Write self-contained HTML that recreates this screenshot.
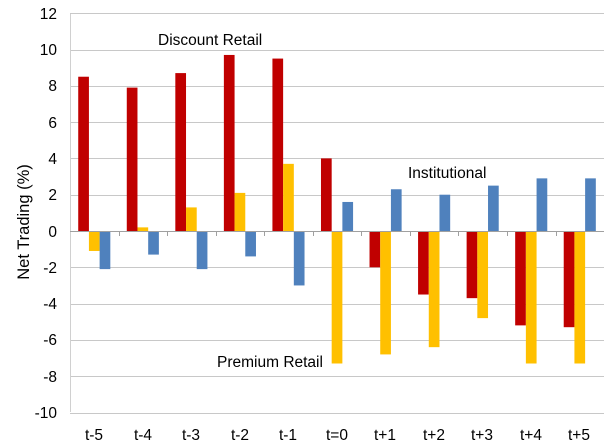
<!DOCTYPE html>
<html><head><meta charset="utf-8"><style>
html,body{margin:0;padding:0;background:#fff;}
svg{display:block;font-family:"Liberation Sans",Arial,sans-serif;}
</style></head><body>
<svg id="s" width="615" height="448" viewBox="0 0 615 448">
<g id="grid" stroke="#c8c8c8" stroke-width="1"></g>
<line x1="70.5" y1="14" x2="70.5" y2="412" stroke="#d0d0d0"/>
<g id="bars"></g>
<line x1="70" y1="231.5" x2="604" y2="231.5" stroke="#a0a0a0"/>
<g id="ticks" stroke="#a0a0a0"></g>
<g font-size="15.5" fill="#000" text-anchor="end">
<text x="57" y="19">12</text><text x="57" y="55">10</text><text x="57" y="91">8</text>
<text x="57" y="128">6</text><text x="57" y="164">4</text><text x="57" y="200">2</text>
<text x="57" y="237">0</text><text x="57" y="273">-2</text><text x="57" y="309">-4</text>
<text x="57" y="345">-6</text><text x="57" y="382">-8</text><text x="57" y="418">-10</text>
</g>
<g font-size="15.5" fill="#000" text-anchor="middle">
<text x="94" y="440">t-5</text><text x="143" y="440">t-4</text><text x="191" y="440">t-3</text>
<text x="240" y="440">t-2</text><text x="288" y="440">t-1</text><text x="337" y="440">t=0</text>
<text x="385" y="440">t+1</text><text x="434" y="440">t+2</text><text x="482" y="440">t+3</text>
<text x="531" y="440">t+4</text><text x="579" y="440">t+5</text>
</g>
<text x="0" y="0" font-size="16.5" text-anchor="middle" transform="translate(29,222) rotate(-90)">Net Trading (%)</text>
<g font-size="15.5" fill="#000">
<text x="158" y="45">Discount Retail</text>
<text x="408" y="178">Institutional</text>
<text x="217" y="367">Premium Retail</text>
</g>
</svg>
<script>
var y0=231,k=18.15,x0=70,cw=48.55,bw=10.7;
var g=document.getElementById('grid'),b=document.getElementById('bars'),t=document.getElementById('ticks');
var ns='http://www.w3.org/2000/svg';
function el(p,n,a){var e=document.createElementNS(ns,n);for(var i in a)e.setAttribute(i,a[i]);p.appendChild(e);}
for(var v=12;v>=-10;v-=2){if(v==0)continue;var y=Math.round(y0-v*k)+0.5;el(g,'line',{x1:70,x2:604,y1:y,y2:y});}
for(var i=1;i<11;i++){var x=Math.round(x0+i*cw)+0.5;el(t,'line',{x1:x,x2:x,y1:231,y2:236});}
var R=[8.5,7.9,8.7,9.7,9.5,4.0,-2,-3.5,-3.7,-5.2,-5.3];
var Y=[-1.1,0.2,1.3,2.1,3.7,-7.3,-6.8,-6.4,-4.8,-7.3,-7.3];
var B=[-2.1,-1.3,-2.1,-1.4,-3.0,1.6,2.3,2.0,2.5,2.9,2.9];
var S=[[R,'#c00000'],[Y,'#ffc000'],[B,'#4f81bd']];
for(var i=0;i<11;i++){var c=x0+i*cw+cw/2;
 for(var j=0;j<3;j++){var v=S[j][0][i],x=c-1.5*bw+j*bw;var ya=y0-v*k;
  el(b,'rect',{x:x,y:Math.min(ya,y0),width:bw,height:Math.abs(v*k),fill:S[j][1]});}}
</script>
</body></html>
